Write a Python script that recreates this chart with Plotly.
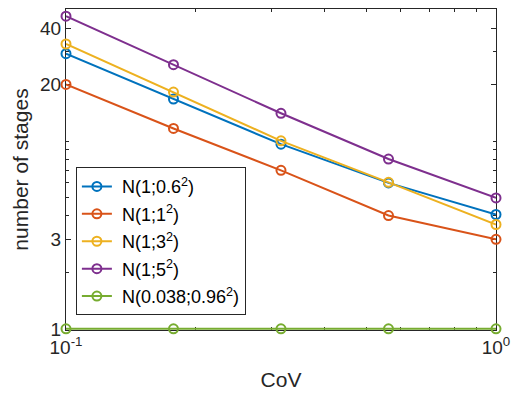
import plotly.graph_objects as go
import numpy as np

cov = [0.1, 0.1778, 0.3162, 0.5623, 1.0]

s_06 = [29.3, 16.8, 9.65, 6.0, 4.07]
s_1 = [20.1, 11.7, 7.0, 4.02, 3.0]
s_3 = [33.0, 18.3, 10.05, 6.04, 3.6]
s_5 = [46.4, 25.6, 14.1, 8.04, 4.99]
s_038 = [1, 1, 1, 1, 1]

names = ["N(1;0.6<sup>2</sup>)", "N(1;1<sup>2</sup>)", "N(1;3<sup>2</sup>)",
         "N(1;5<sup>2</sup>)", "N(0.038;0.96<sup>2</sup>)"]
colors = ["#0072BD", "#D95319", "#EDB120", "#7E2F8E", "#77AC30"]
series = [s_06, s_1, s_3, s_5, s_038]

y_ticks = [1, 3, 20, 40]
y_minor = [2, 4, 5, 6, 7, 8, 9, 10, 30]
x_ticks = [0.1, 1]
x_ticklabels = ["10<sup>-1</sup>", "10<sup>0</sup>"]
x_minor = [0.2, 0.3, 0.4, 0.5, 0.6, 0.7, 0.8, 0.9]

fig = go.Figure()
for i, (name, col, ys) in enumerate(zip(names, colors, series)):
    fig.add_trace(go.Scatter(
        x=cov, y=ys, name="\u00a0" + name, mode="lines+markers", legendgroup=f"g{i}",
        line=dict(color=col, width=2),
        marker=dict(symbol="circle-open", size=9, color=col, line=dict(width=2, color=col)),
        cliponaxis=False,
    ))

axcol = "#262626"
fig.update_layout(
    width=518, height=395,
    margin=dict(l=66, r=16, t=8, b=65),
    plot_bgcolor="white", paper_bgcolor="white",
    font=dict(family="Liberation Sans, Arial, sans-serif", size=19, color=axcol),
    showlegend=True,
    legend=dict(x=0.023, y=0.507, xanchor="left", yanchor="top",
                bgcolor="white", bordercolor=axcol, borderwidth=1,
                font=dict(size=18, color="black"),
                tracegroupgap=1, itemwidth=30),
    xaxis=dict(type="log", range=[-1, 0], showline=True, linecolor=axcol, linewidth=1,
               mirror="allticks", ticks="inside", ticklen=5, tickcolor=axcol, layer="below traces",
               tickvals=x_ticks, ticktext=x_ticklabels, showgrid=False, zeroline=False,
               tickfont=dict(size=19),
               minor=dict(tickvals=x_minor, ticks="inside", ticklen=3, tickcolor=axcol, showgrid=False),
               title=dict(text="CoV", standoff=15, font=dict(size=21))),
    yaxis=dict(type="log", range=[-0.006, np.log10(50.7)], showline=True, linecolor=axcol, linewidth=1,
               mirror="allticks", ticks="inside", ticklen=5, tickcolor=axcol, layer="below traces",
               tickvals=y_ticks, ticktext=[str(v) for v in y_ticks], showgrid=False, zeroline=False,
               tickfont=dict(size=19),
               minor=dict(tickvals=y_minor, ticks="inside", ticklen=3, tickcolor=axcol, showgrid=False),
               title=dict(text="number of stages", standoff=5, font=dict(size=21))),
)

fig.write_html("out.html", config={"displayModeBar": False},
               post_script="document.body.style.margin='0';document.body.style.overflow='hidden';")
